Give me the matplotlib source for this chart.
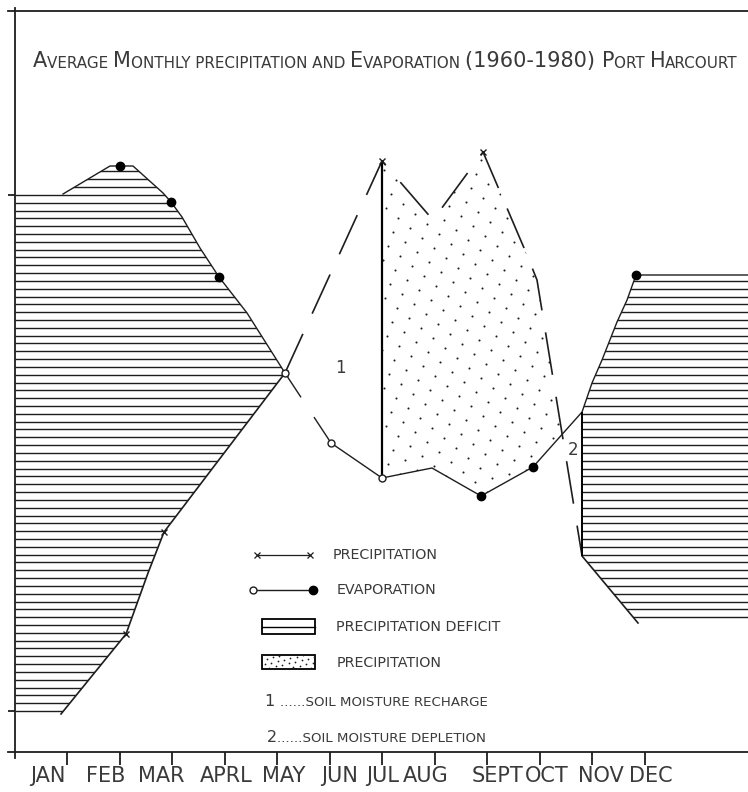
import matplotlib
matplotlib.use('Agg')
import matplotlib.pyplot as plt
import numpy as np
from matplotlib.path import Path
from matplotlib.patches import Rectangle

#  Average monthly precipitation and evaporation (1960-1980), Port Harcourt
#  x = month position (1 = JAN ... 12 = DEC), y = height in chart units

months = ['JAN', 'FEB', 'MAR', 'APRL', 'MAY', 'JUN', 'JUL', 'AUG', 'SEPT', 'OCT', 'NOV', 'DEC']
month_ticks = np.arange(1, 13)
label_pos = [0.630, 1.743, 2.790, 4.038, 5.124, 6.200, 7.019, 7.838, 9.200, 10.133, 11.171, 12.124]

# precipitation curve (x markers)
prec_x = [0.886, 1.381, 2.124, 2.543, 2.848, 5.152, 7.0, 7.971, 8.924, 9.762, 9.952, 10.81, 11.876]
prec_y = [38, 70, 118, 179, 220, 379, 591, 532, 600, 497, 472, 196, 129]
prec_marks = [2, 4, 5, 6, 8]

# evaporation curve (open / filled dots)
evap_x = [0.924, 1.819, 2.010, 2.257, 2.829, 2.981, 3.190, 3.533, 3.895, 4.429, 5.152, 6.029,
          7.0, 7.952, 8.886, 9.876, 10.81, 11.0, 11.19, 11.476, 11.667, 11.838, 13.971]
evap_y = [558, 586, 586, 586, 559, 550, 535, 504, 475, 439, 379, 309,
          274, 284, 256, 285, 340, 369, 392, 430, 452, 477, 477]
evap_filled = [2, 5, 8, 14, 15, 21]
evap_open = [10, 11, 12]

title_parts = [('A', 'big'), ('VERAGE ', 'small'), ('M', 'big'), ('ONTHLY PRECIPITATION AND ', 'small'),
               ('E', 'big'), ('VAPORATION ', 'small'), ('(1960-1980) ', 'big'),
               ('P', 'big'), ('ORT ', 'small'), ('H', 'big'), ('ARCOURT', 'small')]

LINE = '#1e1e1e'
TEXT = '#3a3a3a'
XMAX, YMAX = 13.971, 741


def dash(on, off, lw):
    # dash lengths given in points, matplotlib scales them by linewidth
    return (on / lw, off / lw)


def region_path(coll):
    return Path.make_compound_path(*coll.get_paths())


def hatch(ax, coll, levels):
    hl = ax.hlines(levels, 0, XMAX, colors=LINE, lw=1.0, zorder=2)
    hl.set_clip_path(region_path(coll), ax.transData)


def stipple(ax, x0, x1, y0, y1, clip, transform=None, z=2, scale=1.0, size=2.2):
    # staggered dot texture
    a = np.array([17 / 52.5, 4.0]) * scale
    b = np.array([-5 / 52.5, -14.0]) * scale
    i, j = np.meshgrid(np.arange(-60, 60), np.arange(-60, 60))
    pts = np.array([x0, y1]) + i.ravel()[:, None] * a + j.ravel()[:, None] * b
    keep = (pts[:, 0] >= x0) & (pts[:, 0] <= x1) & (pts[:, 1] >= y0) & (pts[:, 1] <= y1)
    sc = ax.scatter(pts[keep, 0], pts[keep, 1], s=size, c=LINE, linewidths=0, zorder=z)
    if transform is None:
        sc.set_clip_path(clip)
    else:
        sc.set_clip_path(clip, transform)


fig = plt.figure(figsize=(7.48, 7.92), dpi=100)
ax = fig.add_axes([14.5 / 748, 40 / 792, 733.5 / 748, 741 / 792])
ax.set_xlim(0, XMAX)
ax.set_ylim(0, YMAX)

## shaded areas
levels = np.arange(41, 590, 7.82)

xs = np.linspace(0, 7, 1400)
ev = np.interp(xs, evap_x, evap_y)
pr = np.interp(xs, prec_x, prec_y)
left = ax.fill_between(xs, pr, ev, where=ev >= pr, interpolate=True, facecolor='none', edgecolor='none')
hatch(ax, left, levels)

xs = np.linspace(prec_x[11], XMAX, 800)
ev = np.interp(xs, evap_x, evap_y)
pr = np.interp(xs, prec_x, prec_y)
right = ax.fill_between(xs, pr, ev, facecolor='none', edgecolor='none')
hatch(ax, right, levels)

xs = np.linspace(7.0, prec_x[11], 1000)
ev = np.interp(xs, evap_x, evap_y)
pr = np.interp(xs, prec_x, prec_y)
wet = ax.fill_between(xs, ev, pr, where=pr >= ev, interpolate=True, facecolor='none', edgecolor='none')
stipple(ax, 7.0, prec_x[11], 200, 620, region_path(wet), ax.transData)

## curves
lw = 1.2
ax.plot(prec_x[:6], prec_y[:6], color=LINE, lw=lw, zorder=3)
ax.plot(prec_x[5:12], prec_y[5:12], color=LINE, lw=lw, dashes=dash(31, 16, lw), zorder=3)
ax.plot(prec_x[11:], prec_y[11:], color=LINE, lw=lw, zorder=3)
ax.plot([prec_x[k] for k in prec_marks], [prec_y[k] for k in prec_marks], ls='none',
        marker='x', ms=5, mew=1.0, color=LINE, zorder=4)

ax.plot(evap_x[:11], evap_y[:11], color=LINE, lw=1.0, zorder=3)
ax.plot(evap_x[10:12], evap_y[10:12], color=LINE, lw=1.0, dashes=dash(21, 17, 1.0), zorder=3)
ax.plot(evap_x[11:], evap_y[11:], color=LINE, lw=1.0, zorder=3)
ax.plot([evap_x[k] for k in evap_filled], [evap_y[k] for k in evap_filled], ls='none',
        marker='o', ms=6, color='black', zorder=5)
ax.plot([evap_x[k] for k in evap_open], [evap_y[k] for k in evap_open], ls='none',
        marker='o', ms=5, mfc='white', mec=LINE, mew=1.0, zorder=5)

# edges of the shaded areas
ax.vlines(7.0, evap_y[12], prec_y[6], colors='black', lw=1.6, zorder=3)
ax.vlines(prec_x[11], prec_y[11], evap_y[16], colors='black', lw=1.4, zorder=3)

ax.text(6.2, 384, '1', fontsize=12, color=TEXT, ha='center', va='center')
ax.text(10.638, 302, '2', fontsize=12, color=TEXT, ha='center', va='center')

## legend
fs = 10.3
ax.plot([4.619, 5.629], [197, 197], color=LINE, lw=0.9, marker='x', ms=4, mew=0.9)
ax.text(6.067, 197, 'PRECIPITATION', fontsize=fs, color=TEXT, va='center')
ax.plot([4.543, 5.686], [162, 162], color=LINE, lw=1.0)
ax.plot([4.543], [162], marker='o', ms=5, mfc='white', mec=LINE, mew=1.0)
ax.plot([5.686], [162], marker='o', ms=6, color='black')
ax.text(6.143, 162, 'EVAPORATION', fontsize=fs, color=TEXT, va='center')
ax.add_patch(Rectangle((4.714, 118), 1.01, 15, facecolor='white', edgecolor='black', lw=1.3))
ax.plot([4.714, 5.724], [125.5, 125.5], color='black', lw=1.0)
ax.text(6.124, 125, 'PRECIPITATION DEFICIT', fontsize=fs, color=TEXT, va='center')
box = Rectangle((4.714, 83), 1.01, 14, facecolor='white', edgecolor='black', lw=1.3, zorder=3)
ax.add_patch(box)
stipple(ax, 4.714, 5.724, 83, 97, box, z=4, scale=0.38, size=1.6)
ax.text(6.143, 89, 'PRECIPITATION', fontsize=fs, color=TEXT, va='center')

t = ax.text(4.771, 50, '1 ', fontsize=11.5, color=TEXT, va='center')
ax.annotate('......SOIL MOISTURE RECHARGE', xy=(1, 0), xycoords=t, fontsize=9.6, color=TEXT, va='bottom')
t = ax.text(4.810, 14, '2', fontsize=11.5, color=TEXT, va='center')
ax.annotate('......SOIL MOISTURE DEPLETION', xy=(1, 0), xycoords=t, fontsize=9.6, color=TEXT, va='bottom')

## title in small caps
sizes = {'big': 15.0, 'small': 10.9}
prev = None
for txt, kind in title_parts:
    if prev is None:
        prev = ax.text(0.352, 681, txt, fontsize=sizes[kind], color=TEXT, va='bottom')
    else:
        prev = ax.annotate(txt, xy=(1, 0), xycoords=prev, fontsize=sizes[kind], color=TEXT, va='bottom')

## axes
for side in ['left', 'bottom', 'top']:
    ax.spines[side].set_linewidth(1.3)
    ax.spines[side].set_color(LINE)
ax.spines['right'].set_visible(False)
ax.spines['left'].set_bounds(-6, YMAX + 3)
ax.spines['bottom'].set_bounds(-0.124, XMAX)
ax.spines['top'].set_bounds(-0.124, XMAX)

ax.set_xticks(month_ticks, labels=[])
ax.set_xticks(label_pos, labels=months, minor=True)
ax.tick_params(axis='x', which='major', direction='out', length=9.5, width=1.3, color=LINE)
ax.tick_params(axis='x', which='minor', length=0, pad=10, labelsize=15, labelcolor=TEXT)
ax.set_yticks([41, 557], labels=[])
ax.tick_params(axis='y', direction='out', length=5, width=1.3, color=LINE)

fig.savefig('out.png', dpi=100)
